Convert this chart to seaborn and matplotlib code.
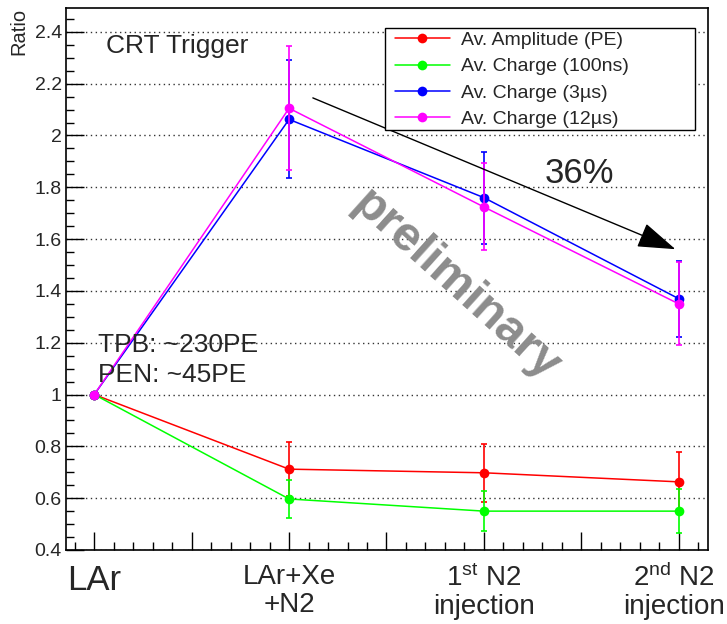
import numpy as np
import pandas as pd
import matplotlib
matplotlib.use("Agg")
import matplotlib.pyplot as plt
import matplotlib.transforms as mtransforms
from matplotlib.patches import Rectangle
import seaborn as sns

# ---- data ----
stages = ["LAr", "LAr+Xe\n+N2", "1$^{st}$ N2\ninjection", "2$^{nd}$ N2\ninjection"]
stage_pos = [0, 1, 2, 3]
series_names = ["Av. Amplitude (PE)", "Av. Charge (100ns)", "Av. Charge (3µs)", "Av. Charge (12µs)"]
series_colors = ["#ff0000", "#00ff00", "#0000ff", "#ff00ff"]
amp_vals = [1.0, 0.712, 0.698, 0.663]
amp_err = [0.0, 0.105, 0.112, 0.116]
q100_vals = [1.0, 0.597, 0.550, 0.550]
q100_err = [0.0, 0.073, 0.077, 0.085]
q3_vals = [1.0, 2.062, 1.760, 1.370]
q3_err = [0.0, 0.228, 0.177, 0.146]
q12_vals = [1.0, 2.105, 1.724, 1.350]
q12_err = [0.0, 0.240, 0.168, 0.160]
all_vals = [amp_vals, q100_vals, q3_vals, q12_vals]
all_errs = [amp_err, q100_err, q3_err, q12_err]

sns.set_style("ticks")
plt.rcParams["font.family"] = ["Liberation Sans", "DejaVu Sans"]
plt.rcParams["mathtext.fontset"] = "custom"
plt.rcParams["mathtext.rm"] = "Liberation Sans"
plt.rcParams["mathtext.it"] = "Liberation Sans"
plt.rcParams["mathtext.default"] = "regular"

fig = plt.figure(figsize=(7.27, 6.24), dpi=100)
ax = fig.add_axes([0.0908, 0.1186, 0.883, 0.869])

for name, col, vals, errs in zip(series_names, series_colors, all_vals, all_errs):
    df = pd.DataFrame({"x": stage_pos, "y": vals})
    sns.lineplot(data=df, x="x", y="y", ax=ax, color=col, linewidth=1.1,
                 marker="o", markersize=7, markeredgewidth=0, label=name,
                 legend=False, zorder=3)
    ax.errorbar(stage_pos, vals, yerr=errs, fmt="none", ecolor=col,
                elinewidth=1.2, capsize=2.5, capthick=1.2, zorder=3)

ax.set_xlim(-0.145, 3.15)
ax.set_ylim(0.4, 2.493)
ax.set_xlabel("")
ax.set_ylabel("")

# ticks
xt = [0, 0.5, 1, 1.5, 2, 2.5, 3]
ax.set_xticks(xt)
ax.set_xticklabels([stages[0], "", stages[1], "", stages[2], "", stages[3]])
ax.set_xticks(np.arange(-0.1, 3.11, 0.1), minor=True)
ax.set_yticks([0.4, 0.6, 0.8, 1.0, 1.2, 1.4, 1.6, 1.8, 2.0, 2.2, 2.4])
ax.set_yticklabels(["0.4", "0.6", "0.8", "1", "1.2", "1.4", "1.6", "1.8", "2", "2.2", "2.4"])
ax.set_yticks(np.arange(0.4, 2.49, 0.05), minor=True)
ax.tick_params(axis="both", which="major", direction="in", length=13, width=1.0, color="black")
ax.tick_params(axis="both", which="minor", direction="in", length=6, width=1.0, color="black")
ax.tick_params(axis="y", which="major", labelsize=14, pad=3)
ax.tick_params(axis="x", which="major", labelsize=20, pad=10)
shift_left = mtransforms.ScaledTranslation(-5 / 100, 0, fig.dpi_scale_trans)
for lbl in ax.get_xticklabels():
    if lbl.get_text() == "LAr":
        lbl.set_fontsize(25)
    if lbl.get_text() == stages[3]:
        lbl.set_transform(lbl.get_transform() + shift_left)
    lbl.set_linespacing(1.1)

ax.yaxis.grid(True, which="major", linestyle=(0, (1, 2.5)), color="#333333", linewidth=1.0)
ax.xaxis.grid(False)
for s in ax.spines.values():
    s.set_color("black")
    s.set_linewidth(1.2)

# texts
ax.text(0.062, 0.917, "CRT Trigger", transform=ax.transAxes, fontsize=19, ha="left", va="baseline")
ax.text(0.05, 0.365, "TPB: ~230PE", transform=ax.transAxes, fontsize=19, ha="left", va="baseline")
ax.text(0.05, 0.31, "PEN: ~45PE", transform=ax.transAxes, fontsize=19, ha="left", va="baseline")
ax.text(0.746, 0.677, "36%", transform=ax.transAxes, fontsize=25, ha="left", va="baseline")
ax.text(0.608, 0.488, "preliminary", transform=ax.transAxes, fontsize=35, fontweight="bold",
        color="#8c8c8c", rotation=-42, ha="center", va="center", rotation_mode="anchor", zorder=1)
fig.text(19 / 727, 1 - 8 / 624, "Ratio", rotation=90, ha="center", va="top", fontsize=14.5)

ax.annotate("", xy=(2.983, 1.561), xytext=(1.122, 2.145),
            arrowprops=dict(arrowstyle="-|>,head_length=2.4,head_width=0.8",
                            mutation_scale=10, color="black", lw=1.0,
                            shrinkA=0, shrinkB=0), zorder=4)

# legend box (fixed ROOT-like box) + legend entries
ax.add_patch(Rectangle((0.497, 0.775), 0.483, 0.188, transform=ax.transAxes,
                       facecolor="white", edgecolor="black", linewidth=1.0, zorder=5))
leg = ax.legend(loc="upper left", bbox_to_anchor=(0.503, 0.967), fontsize=14,
                frameon=False, handlelength=2.85, handletextpad=0.57, labelspacing=0.45,
                borderpad=0.3, borderaxespad=0)
leg.set_zorder(6)

fig.savefig("out.png", dpi=100)
